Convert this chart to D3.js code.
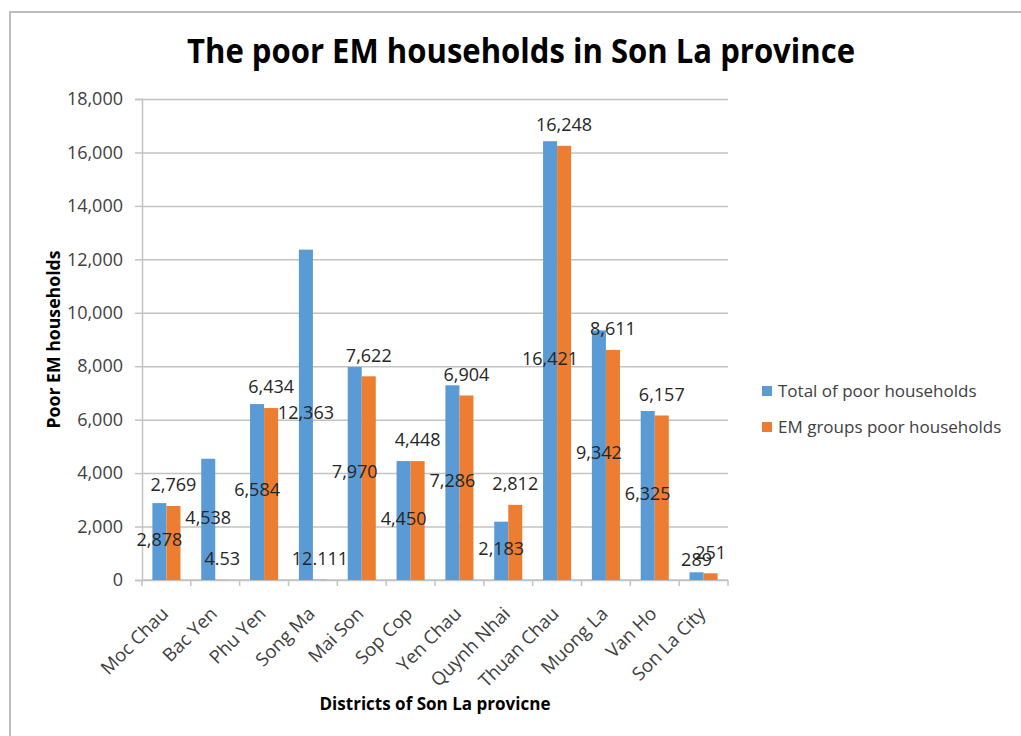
<!DOCTYPE html>
<html>
<head>
<meta charset="utf-8">
<script src="https://cdn.jsdelivr.net/npm/d3@7"></script>
<style>
  body { margin: 0; background: #fff; }
</style>
</head>
<body>
<script>
const categories = ['Moc Chau', 'Bac Yen', 'Phu Yen', 'Song Ma', 'Mai Son', 'Sop Cop',
  'Yen Chau', 'Quynh Nhai', 'Thuan Chau', 'Muong La', 'Van Ho', 'Son La City']
const totalPoor = [2878, 4538, 6584, 12363, 7970, 4450, 7286, 2183, 16421, 9342, 6325, 289]
const emPoor = [2769, 4.53, 6434, 12.111, 7622, 4448, 6904, 2812, 16248, 8611, 6157, 251]
const yTicks = [0, 2000, 4000, 6000, 8000, 10000, 12000, 14000, 16000, 18000]
const seriesNames = ['Total of poor households', 'EM groups poor households']

const overallWidth = 1021
const overallHeight = 736
const margin = { left: 142, top: 99, right: 293, bottom: 156 }
const width = overallWidth - margin.left - margin.right
const height = overallHeight - margin.top - margin.bottom

const colors = ['#5b9bd5', '#ed7d31']
const gridColor = '#c3c3c3'
const textColor = '#404040'
const font = '"Open Sans", sans-serif'

const data = categories.map((c, i) => ({ name: c, values: [totalPoor[i], emPoor[i]] }))

const svg = d3.create('svg')
  .attr('width', overallWidth)
  .attr('height', overallHeight)
  .attr('xmlns', 'http://www.w3.org/2000/svg')
  .style('font-family', font)

// frame
svg.append('path')
  .attr('d', `M10,${overallHeight}V12H${overallWidth}`)
  .attr('fill', 'none')
  .attr('stroke', '#bdbdbd')
  .attr('stroke-width', 2)

const g = svg.append('g').attr('transform', `translate(${margin.left},${margin.top})`)

const x = d3.scaleBand().domain(categories).range([0, width])
const xs = d3.scaleBand().domain([0, 1]).range([0, x.bandwidth()]).paddingOuter(0.74)
const y = d3.scaleLinear().domain([0, 18000]).range([height, 0])
const fmt = d3.format(',')

const yAxis = g => g
  .call(d3.axisLeft(y).tickValues(yTicks).tickFormat(fmt).tickSize(7).tickPadding(12))
  .call(g => g.select('.domain').attr('stroke', gridColor).attr('stroke-width', 1.5))
  .call(g => g.selectAll('.tick line').clone()
    .attr('x2', width)
    .attr('stroke', gridColor)
    .attr('stroke-width', 1.5))
  .call(g => g.selectAll('.tick line').attr('stroke', gridColor).attr('stroke-width', 1.5))
  .call(g => g.selectAll('.tick text')
    .attr('fill', textColor)
    .attr('font-size', 18)
    .attr('font-family', font))

const xAxis = g => g
  .attr('transform', `translate(0,${height})`)
  .call(g => g.append('line')
    .attr('x2', width)
    .attr('stroke', gridColor)
    .attr('stroke-width', 1.5))
  .call(g => g.selectAll('line.tk')
    .data(categories.map(c => x(c)).concat([width]))
    .join('line')
    .attr('class', 'tk')
    .attr('x1', d => d).attr('x2', d => d)
    .attr('y2', 6)
    .attr('stroke', gridColor)
    .attr('stroke-width', 1.5))
  .call(g => g.selectAll('text')
    .data(categories)
    .join('text')
    .attr('transform', d => `translate(${x(d) + x.bandwidth() / 2 + 3},35) rotate(-45)`)
    .attr('text-anchor', 'end')
    .attr('fill', textColor)
    .attr('font-size', 18.5)
    .text(d => d))

g.append('g').call(yAxis)
g.append('g').call(xAxis)

const groups = g.append('g')
  .selectAll('g')
  .data(data)
  .join('g')
  .attr('transform', d => `translate(${x(d.name)},0)`)

groups.selectAll('rect')
  .data(d => d.values)
  .join('rect')
  .attr('x', (v, i) => xs(i))
  .attr('width', xs.bandwidth())
  .attr('y', v => y(v))
  .attr('height', v => height - y(v))
  .attr('fill', (v, i) => colors[i])

// total labels sit in the middle of the blue bar, em labels above the orange bar
groups.append('text')
  .attr('x', xs(0) + xs.bandwidth() / 2)
  .attr('y', d => Math.min(y(d.values[0] / 2) - 2, height - 20))
  .attr('dy', '0.35em')
  .attr('text-anchor', 'middle')
  .attr('fill', '#262626')
  .attr('font-size', 18)
  .text(d => fmt(d.values[0]))

groups.append('text')
  .attr('x', xs(1) + xs.bandwidth() / 2)
  .attr('y', d => y(d.values[1]) - 21)
  .attr('dy', '0.35em')
  .attr('text-anchor', 'middle')
  .attr('fill', '#262626')
  .attr('font-size', 18)
  .text(d => fmt(d.values[1]))

// titles
svg.append('text')
  .text('The poor EM households in Son La province')
  .attr('x', 521)
  .attr('y', 63)
  .attr('text-anchor', 'middle')
  .attr('font-size', 34)
  .attr('font-weight', 'bold')
  .attr('fill', '#000')
  .attr('textLength', 668)
  .attr('lengthAdjust', 'spacingAndGlyphs')

svg.append('text')
  .text('Districts of Son La provicne')
  .attr('x', margin.left + width / 2)
  .attr('y', 710)
  .attr('text-anchor', 'middle')
  .attr('font-size', 18)
  .attr('font-weight', 'bold')
  .attr('fill', '#000')
  .attr('textLength', 231)
  .attr('lengthAdjust', 'spacingAndGlyphs')

svg.append('text')
  .text('Poor EM households')
  .attr('transform', `translate(60,${margin.top + height / 2}) rotate(-90)`)
  .attr('text-anchor', 'middle')
  .attr('font-size', 18)
  .attr('font-weight', 'bold')
  .attr('fill', '#000')
  .attr('textLength', 178)
  .attr('lengthAdjust', 'spacingAndGlyphs')

// legend
const legend = svg.append('g')
  .attr('transform', 'translate(762,391)')
  .selectAll('g')
  .data(seriesNames)
  .join('g')
  .attr('transform', (d, i) => `translate(0,${i * 36})`)

legend.append('rect')
  .attr('y', -5)
  .attr('width', 10)
  .attr('height', 10)
  .attr('fill', (d, i) => colors[i])

legend.append('text')
  .attr('x', 16)
  .attr('dy', '0.35em')
  .attr('fill', textColor)
  .attr('font-size', 17)
  .text(d => d)

document.body.appendChild(svg.node())
</script>
</body>
</html>
